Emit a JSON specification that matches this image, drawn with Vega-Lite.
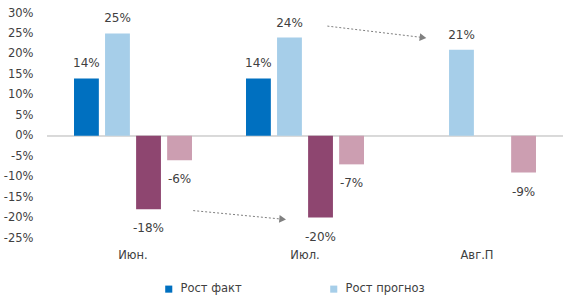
{
  "$schema": "https://vega.github.io/schema/vega-lite/v6.json",
  "width": 516,
  "height": 225,
  "autosize": {"type": "none"},
  "padding": {"left": 47, "top": 13, "right": 2, "bottom": 67},
  "config": {
    "view": {"stroke": null},
    "font": "DejaVu Sans",
    "axisY": {"labelOverlap": false, "labelFontSize": 11.5, "labelColor": "#404040", "domain": false, "ticks": false, "grid": false, "labelPadding": 14, "title": null},
    "locale": {"number": {"decimal": ".", "thousands": ",", "grouping": [3], "currency": ["$", ""], "minus": "-"}}
  },
  "datasets": {
    "bars": [
      {"month": "Июн.", "series": "Рост факт", "value": 0.14},
      {"month": "Июн.", "series": "Рост прогноз", "value": 0.25},
      {"month": "Июн.", "series": "Падение факт", "value": -0.18},
      {"month": "Июн.", "series": "Падение прогноз", "value": -0.06},
      {"month": "Июл.", "series": "Рост факт", "value": 0.14},
      {"month": "Июл.", "series": "Рост прогноз", "value": 0.24},
      {"month": "Июл.", "series": "Падение факт", "value": -0.20},
      {"month": "Июл.", "series": "Падение прогноз", "value": -0.07},
      {"month": "Авг.П", "series": "Рост прогноз", "value": 0.21},
      {"month": "Авг.П", "series": "Падение прогноз", "value": -0.09}
    ],
    "arrows": [
      {"id": 1, "from": "Июн.", "to": "Июл.", "y1": -0.183, "y2": -0.204},
      {"id": 2, "from": "Июл.", "to": "Авг.П", "y1": 0.268, "y2": 0.24}
    ]
  },
  "data": {"name": "bars"},
  "layer": [
    {
      "mark": {"type": "rule", "color": "#d9d9d9", "strokeWidth": 1.5},
      "encoding": {"y": {"datum": 0, "type": "quantitative"}}
    },
    {
      "mark": {"type": "bar"},
      "encoding": {
        "x": {
          "field": "month", "type": "nominal", "sort": null,
          "scale": {"domain": ["Июн.", "Июл.", "Авг.П"], "paddingInner": 0, "paddingOuter": 0},
          "axis": {"title": null, "domain": false, "ticks": false, "labelAngle": 0, "labelPadding": 11, "labelFontSize": 11.5, "labelColor": "#404040"}
        },
        "xOffset": {
          "field": "series", "type": "nominal",
          "scale": {"domain": ["Рост факт", "Рост прогноз", "Падение факт", "Падение прогноз"], "paddingInner": 0.2, "paddingOuter": 0.87}
        },
        "y": {
          "field": "value", "type": "quantitative",
          "scale": {"domain": [-0.25, 0.3], "nice": false},
          "axis": {"title": null, "format": ".0%", "labelOverlap": false, "tickCount": 20,
            "values": [-0.25, -0.2, -0.15, -0.1, -0.05, 0, 0.05, 0.1, 0.15, 0.2, 0.25, 0.3]}
        },
        "color": {
          "field": "series", "type": "nominal",
          "scale": {"domain": ["Рост факт", "Рост прогноз", "Падение факт", "Падение прогноз"], "range": ["#0070C0", "#A6CEE9", "#8E4670", "#CC9EB1"]},
          "legend": {"title": null, "values": ["Рост факт", "Рост прогноз"], "orient": "none", "legendX": 116, "legendY": 270, "direction": "horizontal",
            "symbolType": "square", "symbolSize": 50, "labelFontSize": 11.5, "labelColor": "#404040", "columnPadding": 86, "labelOffset": 6, "labelLimit": 200}
        }
      }
    },
    {
      "transform": [{"filter": "datum.value >= 0"}],
      "mark": {"type": "text", "baseline": "middle", "dy": -15, "fontSize": 12, "color": "#404040"},
      "encoding": {
        "x": {"field": "month", "type": "nominal", "sort": null},
        "xOffset": {"field": "series", "type": "nominal"},
        "y": {"field": "value", "type": "quantitative"},
        "text": {"field": "value", "type": "quantitative", "format": ".0%"}
      }
    },
    {
      "transform": [{"filter": "datum.value < 0"}],
      "mark": {"type": "text", "baseline": "middle", "dy": 19, "fontSize": 12, "color": "#404040"},
      "encoding": {
        "x": {"field": "month", "type": "nominal", "sort": null},
        "xOffset": {"field": "series", "type": "nominal"},
        "y": {"field": "value", "type": "quantitative"},
        "text": {"field": "value", "type": "quantitative", "format": ".0%"}
      }
    },
    {
      "data": {"name": "arrows"},
      "transform": [{"filter": "datum.id == 1"}],
      "layer": [
        {
          "mark": {"type": "rule", "color": "#808080", "strokeDash": [2, 2], "strokeWidth": 1},
          "encoding": {
            "x": {"field": "from", "type": "nominal", "bandPosition": 0.85},
            "x2": {"field": "to", "bandPosition": 0.37},
            "y": {"field": "y1", "type": "quantitative"},
            "y2": {"field": "y2"}
          }
        },
        {
          "mark": {"type": "point", "shape": "triangle-right", "filled": true, "color": "#808080", "opacity": 1, "size": 60, "angle": 5},
          "encoding": {
            "x": {"field": "to", "type": "nominal", "bandPosition": 0.37},
            "y": {"field": "y2", "type": "quantitative"}
          }
        }
      ]
    },
    {
      "data": {"name": "arrows"},
      "transform": [{"filter": "datum.id == 2"}],
      "layer": [
        {
          "mark": {"type": "rule", "color": "#808080", "strokeDash": [2, 2], "strokeWidth": 1},
          "encoding": {
            "x": {"field": "from", "type": "nominal", "bandPosition": 0.63},
            "x2": {"field": "to", "bandPosition": 0.186},
            "y": {"field": "y1", "type": "quantitative"},
            "y2": {"field": "y2"}
          }
        },
        {
          "mark": {"type": "point", "shape": "triangle-right", "filled": true, "color": "#808080", "opacity": 1, "size": 60, "angle": 7},
          "encoding": {
            "x": {"field": "to", "type": "nominal", "bandPosition": 0.186},
            "y": {"field": "y2", "type": "quantitative"}
          }
        }
      ]
    }
  ]
}
